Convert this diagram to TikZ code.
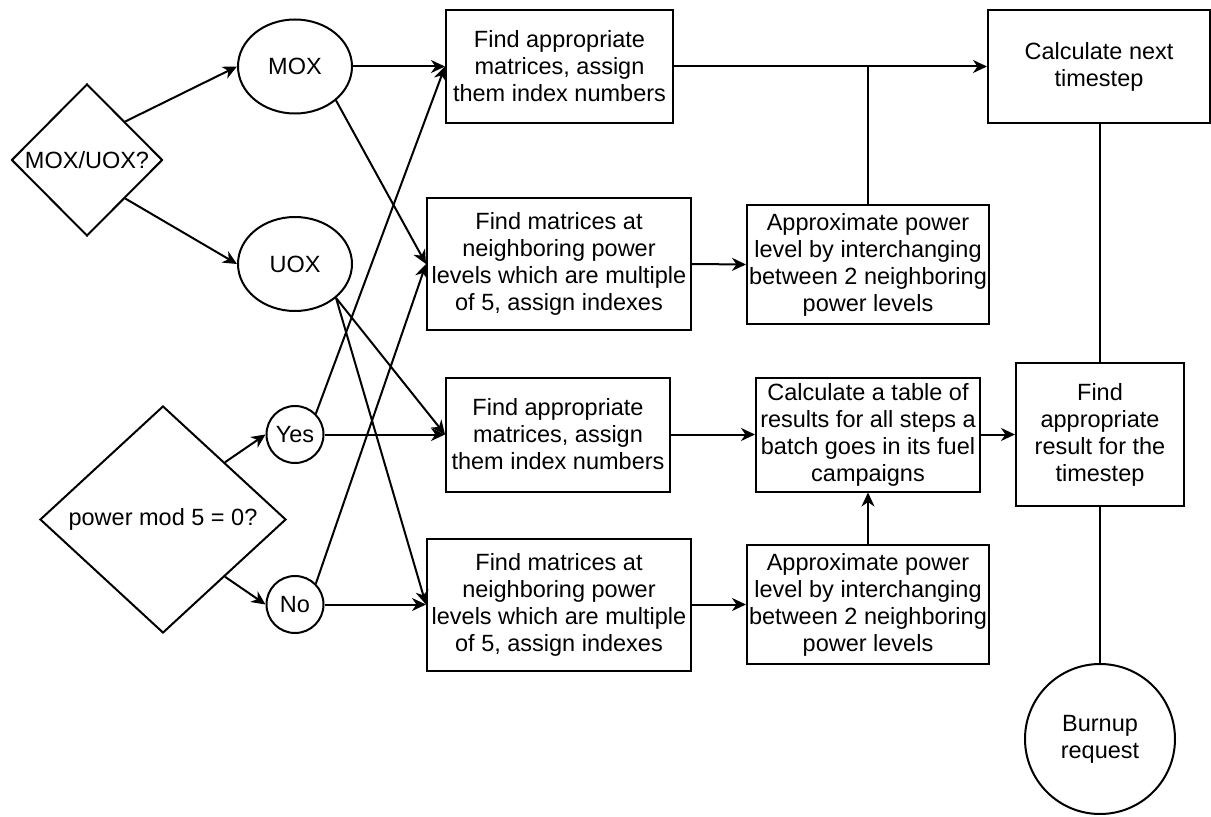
\documentclass[tikz,border=0pt]{standalone}
\usepackage{fontspec}
\setmainfont{Liberation Sans}
\usetikzlibrary{positioning, arrows.meta, shapes.geometric}

\begin{document}
\begin{tikzpicture}[
    x=0.5pt, y=0.5pt,
    font=\fontsize{11.75}{13.5}\selectfont,
    % ---- process box ----
    proc/.style={
        rectangle,
        draw,
        line width=1pt,
        align=center,
        inner sep=1pt
    },
    % ---- decision ----
    choice/.style={diamond, draw, line width=1pt, align=center, inner sep=0pt},
    % ---- fuel type ellipse ----
    opt/.style={ellipse, draw, line width=1pt, inner sep=0pt,
        minimum width=57pt, minimum height=47pt},
    % ---- round node ----
    term/.style={circle, draw, line width=1pt, inner sep=0pt, align=center},
    % ---- connectors ----
    flow/.style={line width=1pt, -{Stealth[length=7pt, width=6.5pt, inset=2.2pt]}},
    link/.style={line width=1pt}
]

\useasboundingbox (0,0) rectangle (1211,816);

% ---------- left: decisions ----------
\node[choice, minimum width=75.5pt, minimum height=76pt] (Kind) at (87,656) {MOX/UOX?};
\node[choice, minimum width=123pt, minimum height=113.5pt] (Pmod) at (163,296.5) {power mod 5 = 0?};

\node[opt] (Mox) at (295,749.5) {MOX};
\node[opt] (Uox) at (295,552) {UOX};
\node[term, minimum size=28.5pt] (Yes) at (295,381.5) {Yes};
\node[term, minimum size=28.5pt] (No) at (295,211.5) {No};

% ---------- middle: matrices ----------
\node[proc, minimum width=113.5pt, minimum height=56.5pt] (FindA) at (559.5,749.5) {
    Find appropriate\\ matrices, assign\\ them index numbers};
\node[proc, minimum width=132pt, minimum height=66pt] (FindB) at (559,552) {
    Find matrices at\\ neighboring power\\ levels which are multiple\\ of 5, assign indexes};
\node[proc, minimum width=112pt, minimum height=57pt] (FindC) at (558,381.5) {
    Find appropriate\\ matrices, assign\\ them index numbers};
\node[proc, minimum width=132pt, minimum height=66pt] (FindD) at (559,211.5) {
    Find matrices at\\ neighboring power\\ levels which are multiple\\ of 5, assign indexes};

% ---------- approximation / table ----------
\node[proc, minimum width=121pt, minimum height=59.5pt] (ApproxB) at (868,551.5) {
    Approximate power\\ level by interchanging\\ between 2 neighboring\\ power levels};
\node[proc, minimum width=112pt, minimum height=57pt] (Table) at (868,381.5) {
    Calculate a table of\\ results for all steps a\\ batch goes in its fuel\\ campaigns};
\node[proc, minimum width=121pt, minimum height=59.5pt] (ApproxD) at (868,211.5) {
    Approximate power\\ level by interchanging\\ between 2 neighboring\\ power levels};

% ---------- right column ----------
\node[proc, minimum width=111pt, minimum height=56.5pt] (Next) at (1099,749.5) {
    Calculate next\\ timestep};
\node[proc, minimum width=84pt, minimum height=71.5pt] (Result) at (1100,381.5) {
    Find\\ appropriate\\ result for the\\ timestep};
\node[term, minimum size=75pt] (Burnup) at (1100,77) {Burnup\\ request};

% ============================================================
%  CONNECTORS
% ============================================================

% decisions -> branches
\draw[flow] (Kind.north east) -- (Mox.west);
\draw[flow] (Kind.south east) -- (Uox.west);
\draw[flow] (Pmod.north east) -- (Yes.west);
\draw[flow] (Pmod.south east) -- (No.west);

% branches -> matrices
\draw[flow] (Mox.east) -- (FindA.west);
\draw[flow] (Mox.south east) -- (FindB.west);
\draw[flow] (Uox.south east) -- (FindC.west);
\draw[flow] (Uox.south east) -- (FindD.west);
\draw[flow] (Yes.north east) -- (FindA.west);
\draw[flow] (Yes.east) -- (FindC.west);
\draw[flow] (No.north east) -- (FindB.west);
\draw[flow] (No.east) -- (FindD.west);

% matrices -> next steps
\draw[flow] (FindA.east) -- (Next.west);
\draw[link] (ApproxB.north) -- (ApproxB.north |- FindA.east);
\draw[flow] (FindB.east) -- (ApproxB.west);
\draw[flow] (FindC.east) -- (Table.west);
\draw[flow] (FindD.east) -- (ApproxD.west);
\draw[flow] (ApproxD.north) -- (Table.south);
\draw[flow] (Table.east) -- (Result.west);

% right column
\draw[link] (Result.north) -- (Result.north |- Next.south);
\draw[link] (Burnup.north) -- (Result.south);

\end{tikzpicture}
\end{document}
